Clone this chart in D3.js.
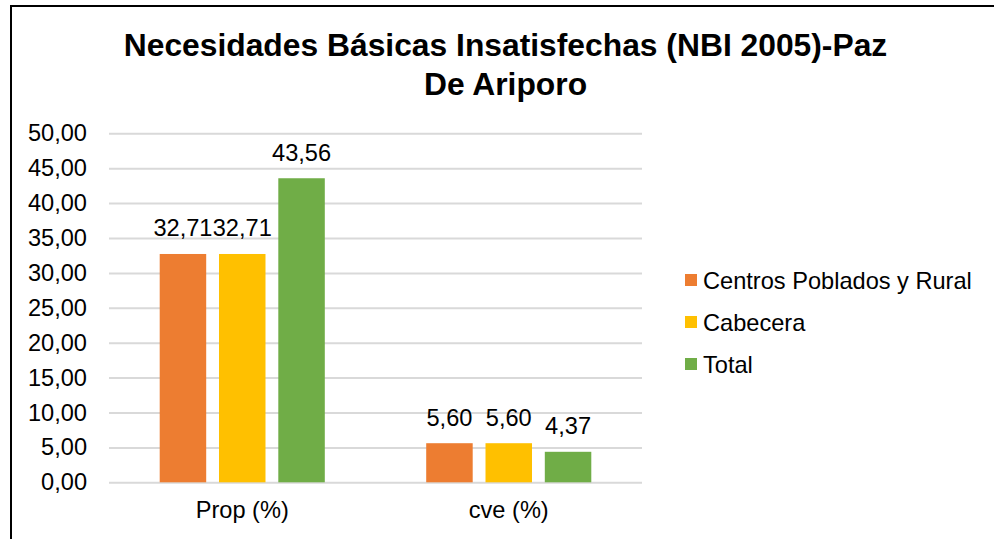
<!DOCTYPE html>
<html><head><meta charset="utf-8">
<script src="https://cdn.jsdelivr.net/npm/d3@7"></script>
<style>body{margin:0;background:#fff}svg{display:block;font-family:"Liberation Sans",Arial,sans-serif}</style>
</head><body><svg id="c" width="994" height="539"></svg>
<script>
const categories = ["Prop (%)", "cve (%)"];
const seriesNames = ["Centros Poblados y Rural", "Cabecera", "Total"];
const centrosValues = [32.71, 5.60];
const cabeceraValues = [32.71, 5.60];
const totalValues = [43.56, 4.37];
const yTicks = [0,5,10,15,20,25,30,35,40,45,50];
const colors = ["#ED7D31", "#FFC000", "#70AD47"];
const titleLines = ["Necesidades Básicas Insatisfechas (NBI 2005)-Paz", "De Ariporo"];

(function(){
const seriesValues = [centrosValues, cabeceraValues, totalValues];
const svg = d3.select("#c");
const fmt = v => v.toFixed(2).replace(".", ",");
const fs = 23.6;

svg.append("rect").attr("x", 11).attr("y", 6).attr("width", 1100).attr("height", 700)
  .attr("fill", "none").attr("stroke", "#000").attr("stroke-width", 2);

const t = svg.append("text").attr("text-anchor", "middle").attr("font-weight", "bold")
  .attr("font-size", 31.8).attr("fill", "#000");
titleLines.forEach((l, i) => t.append("tspan").attr("x", 505.5).attr("y", 56 + i * 38.5).text(l));

const pLeft = 109, pRight = 642, pTop = 133.3, pBottom = 482.3;
const y = d3.scaleLinear().domain([0, 50]).range([pBottom, pTop]);
const x0 = d3.scaleBand().domain(categories).range([pLeft, pRight]).padding(0);
const x1 = d3.scaleBand().domain(seriesNames).range([0, x0.bandwidth()]).paddingInner(0.216).paddingOuter(0.855);

const yAxis = d3.axisLeft(y).tickValues(yTicks).tickSize(-(pRight - pLeft)).tickFormat(fmt);
const gy = svg.append("g").attr("transform", `translate(${pLeft},0)`).call(yAxis);
gy.select(".domain").remove();
gy.selectAll(".tick line").attr("stroke", "#d9d9d9").attr("stroke-width", 2);
gy.selectAll(".tick text").attr("x", -22).attr("font-size", fs).attr("fill", "#000")
  .attr("font-family", "Liberation Sans, Arial, sans-serif");

const groups = svg.append("g").selectAll("g").data(categories).join("g")
  .attr("transform", d => `translate(${x0(d)},0)`);
groups.each(function(cat, ci) {
  const g = d3.select(this);
  seriesNames.forEach((s, si) => {
    const v = seriesValues[si][ci];
    g.append("rect").attr("x", x1(s)).attr("y", y(v)).attr("width", x1.bandwidth())
      .attr("height", y(0) - y(v)).attr("fill", colors[si]);
    g.append("text").attr("x", x1(s) + x1.bandwidth() / 2).attr("y", y(v) - 17.5)
      .attr("text-anchor", "middle").attr("font-size", fs).attr("fill", "#000").text(fmt(v));
  });
});

const xAxis = d3.axisBottom(x0).tickSize(0);
const gx = svg.append("g").attr("transform", `translate(0,${pBottom})`).call(xAxis);
gx.select(".domain").remove();
gx.selectAll(".tick text").attr("dy", 0).attr("y", 36).attr("font-size", fs).attr("fill", "#000")
  .attr("font-family", "Liberation Sans, Arial, sans-serif");

const lg = svg.append("g");
seriesNames.forEach((s, i) => {
  const cy = 280 + i * 42;
  lg.append("rect").attr("x", 685).attr("y", cy - 6).attr("width", 12).attr("height", 12).attr("fill", colors[i]);
  lg.append("text").attr("x", 703).attr("y", cy + 8.5).attr("font-size", fs).attr("fill", "#000").text(s);
});
})();
</script></body></html>
